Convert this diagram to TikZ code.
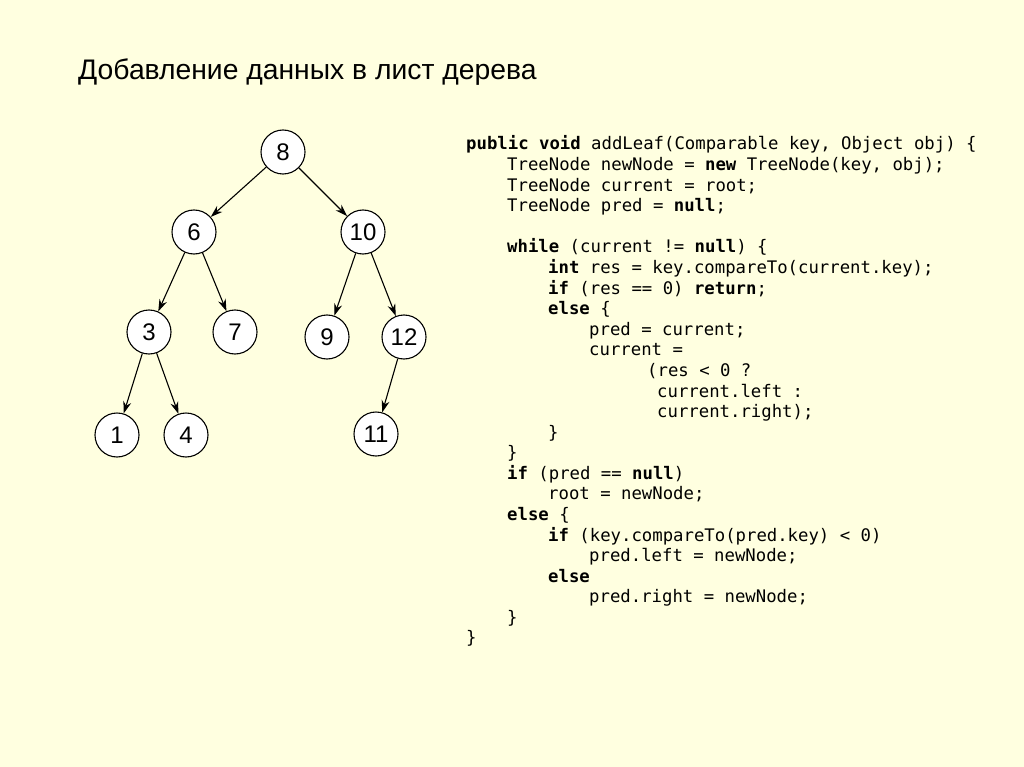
\documentclass[tikz,border=0pt]{standalone}
\usepackage{fontspec}
\setmainfont{Liberation Sans}
\newfontfamily\codefont{DejaVu Sans Mono}
\usetikzlibrary{arrows.meta}
\definecolor{bgyellow}{HTML}{FFFFE0}
\begin{document}
\begin{tikzpicture}[x=1pt,y=-1pt,
  tn/.style={circle,draw=black,fill=white,line width=1.1pt,minimum size=44pt,inner sep=0pt,font=\fontsize{24}{24}\selectfont},
  edge/.style={-{Stealth[length=12pt,width=8pt]},line width=1.1pt},
  code/.style={anchor=base west,inner sep=0pt,font=\codefont\fontsize{17.3}{20}\selectfont},
  title/.style={anchor=base west,inner sep=0pt,font=\fontsize{28.3}{32}\selectfont}
  ]
\fill[bgyellow] (0,0) rectangle (1024,767);
\useasboundingbox (0,0) rectangle (1024,767);

\node[title] (title) at (78,80) {Добавление данных в лист дерева};

% tree
\node[tn] (n8)  at (283,152) {8};
\node[tn] (n6)  at (194,232) {6};
\node[tn] (n10) at (363,232) {10};
\node[tn] (n3)  at (149,332) {3};
\node[tn] (n7)  at (235,332) {7};
\node[tn] (n9)  at (327,337) {9};
\node[tn] (n12) at (404,337) {12};
\node[tn] (n1)  at (117,435) {1};
\node[tn] (n4)  at (186,435) {4};
\node[tn] (n11) at (376,434) {11};

\draw[edge] (n8) -- (n6);
\draw[edge] (n8) -- (n10);
\draw[edge] (n6) -- (n3);
\draw[edge] (n6) -- (n7);
\draw[edge] (n10) -- (n9);
\draw[edge] (n10) -- (n12);
\draw[edge] (n3) -- (n1);
\draw[edge] (n3) -- (n4);
\draw[edge] (n12) -- (n11);

% code
\node[code] (c1)  at (466,150.0) {\textbf{public} \textbf{void} addLeaf(Comparable key, Object obj) \{};
\node[code] (c2)  at (507,170.6) {TreeNode newNode = \textbf{new} TreeNode(key, obj);};
\node[code] (c3)  at (507,191.2) {TreeNode current = root;};
\node[code] (c4)  at (507,211.7) {TreeNode pred = \textbf{null};};
\node[code] (c6)  at (507,252.9) {\textbf{while} (current != \textbf{null}) \{};
\node[code] (c7)  at (548,273.5) {\textbf{int} res = key.compareTo(current.key);};
\node[code] (c8)  at (548,294.1) {\textbf{if} (res == 0) \textbf{return};};
\node[code] (c9)  at (548,314.6) {\textbf{else} \{};
\node[code] (c10) at (589,335.2) {pred = current;};
\node[code] (c11) at (589,355.8) {current =};
\node[code] (c12) at (647,376.4) {(res < 0 ?};
\node[code] (c13) at (657,397.0) {current.left :};
\node[code] (c14) at (657,417.5) {current.right);};
\node[code] (c15) at (548,438.1) {\}};
\node[code] (c16) at (507,458.7) {\}};
\node[code] (c17) at (507,479.3) {\textbf{if} (pred == \textbf{null})};
\node[code] (c18) at (548,499.9) {root = newNode;};
\node[code] (c19) at (507,520.4) {\textbf{else} \{};
\node[code] (c20) at (548,541.0) {\textbf{if} (key.compareTo(pred.key) < 0)};
\node[code] (c21) at (589,561.6) {pred.left = newNode;};
\node[code] (c22) at (548,582.2) {\textbf{else}};
\node[code] (c23) at (589,602.8) {pred.right = newNode;};
\node[code] (c24) at (507,623.3) {\}};
\node[code] (c25) at (466,643.9) {\}};
\end{tikzpicture}
\end{document}
